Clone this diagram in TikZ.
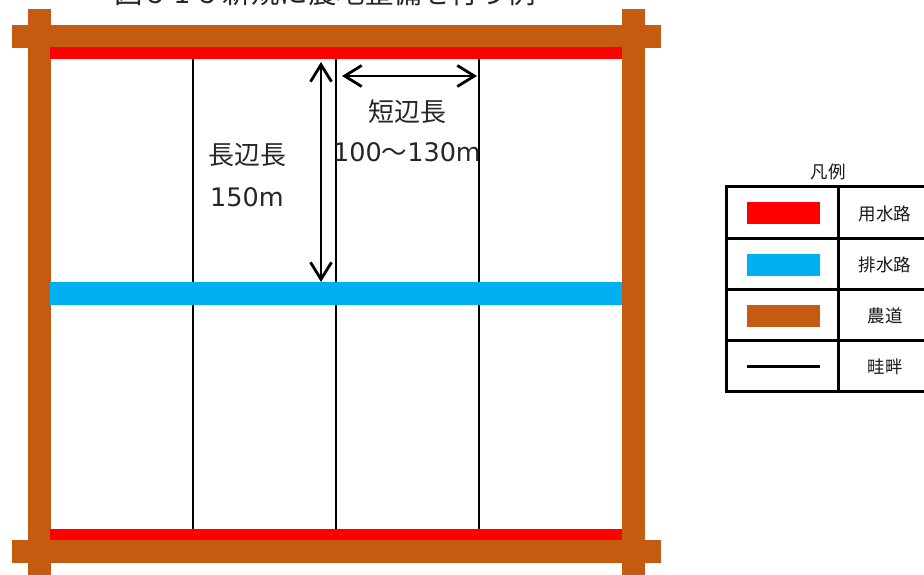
\documentclass[tikz,border=0pt]{standalone}
\usepackage{fontspec}
\usetikzlibrary{arrows.meta}
\setmainfont{Noto Sans CJK JP}
\newfontfamily\latinfont{DejaVu Sans}
\definecolor{roadc}{HTML}{C55A11}
\definecolor{drainc}{HTML}{00B0F0}
\begin{document}
\begin{tikzpicture}[x=1pt,y=-1pt,
  road/.style={fill=roadc,draw=none},
  supply/.style={fill=red,draw=none},
  drain/.style={fill=drainc,draw=none},
  ridge/.style={draw=black,line width=2.2pt},
  dimarrow/.style={draw=black,line width=2.8pt,{Straight Barb[length=17pt,width=21pt,line width=2.8pt]}-{Straight Barb[length=17pt,width=21pt,line width=2.8pt]}},
  big/.style={font=\fontsize{26}{28}\selectfont,inner sep=0pt,text=black!85},
  num/.style={font=\fontsize{25.5}{28}\selectfont\latinfont,inner sep=0pt,text=black!85},
  small/.style={font=\fontsize{17.5}{19}\selectfont,inner sep=0pt,text=black!90},
  grid/.style={draw=black,line width=3pt}]
\useasboundingbox (0,0) rectangle (924,575);
\begin{scope}
\clip (0,0) rectangle (924,575);
\node[font=\fontsize{28.5}{30}\selectfont,inner sep=0pt,text=black!85,anchor=base] (title) at (325,4) {図 5-1-5 新規に農地整備を行う例};
\end{scope}
% ridges
\foreach \n/\x in {a/193,b/336,c/479}{
  \coordinate (\n t) at (\x,59);
  \coordinate (\n b) at (\x,529);
  \draw[ridge] (\n t) -- (\n b);
}
% roads
\fill[road] (12,25) rectangle (661,48);
\fill[road] (12,540) rectangle (661,563);
\fill[road] (28,9) rectangle (51,575);
\fill[road] (622,9) rectangle (645,575);
% channels
\fill[drain] (50,282) rectangle (622,305);
\fill[supply] (50,47.5) rectangle (622,59);
\fill[supply] (50,529) rectangle (622,540);
% dimensions
\coordinate (v1) at (321,62);
\coordinate (v2) at (321,282);
\coordinate (h1) at (342,76);
\coordinate (h2) at (477,76);
\draw[dimarrow] (v1) -- (v2);
\draw[dimarrow] (h1) -- (h2);
\node[big] (long1) at (247,155) {長辺長};
\node[num] (long2) at (247,197) {150m};
\node[big] (short1) at (407,112) {短辺長};
\node[num] (short2) at (407,152) {100{\fontspec{Noto Sans CJK JP}〜}130m};
% legend
\node[small] (legtitle) at (828,172) {凡例};
\draw[grid] (726,187) rectangle (930,391);
\draw[grid] (838,187) -- (838,391);
\draw[grid] (726,238) -- (930,238);
\draw[grid] (726,289) -- (930,289);
\draw[grid] (726,340) -- (930,340);
\fill[supply] (747,202) rectangle (820,224);
\fill[drain] (747,254) rectangle (820,276);
\fill[road] (747,305) rectangle (820,327);
\draw[black,line width=3pt] (747,366) -- (820,366);
\node[small] (l1) at (885,214) {用水路};
\node[small] (l2) at (885,265) {排水路};
\node[small] (l3) at (885,316) {農道};
\node[small] (l4) at (885,367) {畦畔};
\end{tikzpicture}
\end{document}
